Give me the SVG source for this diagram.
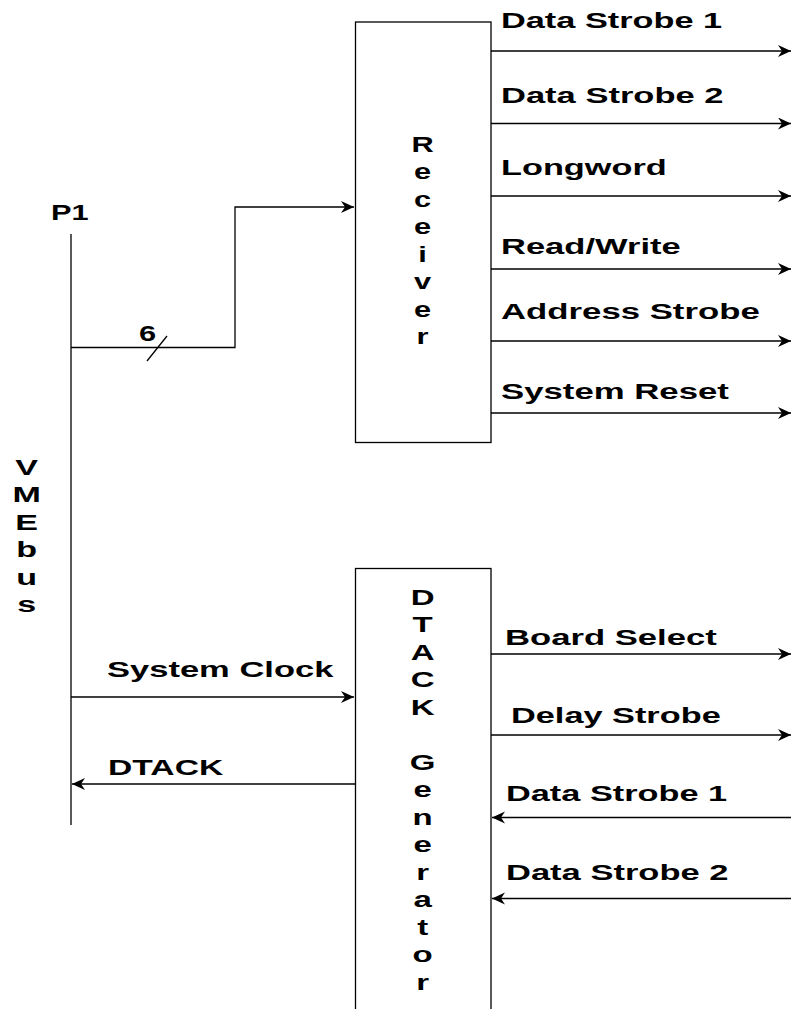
<svg xmlns="http://www.w3.org/2000/svg" width="791" height="1009" viewBox="0 0 791 1009">
<style>
.t{font-family:"Liberation Sans",Arial,sans-serif;font-weight:bold;font-size:22px;fill:#000}
.v{font-family:"Liberation Sans",Arial,sans-serif;font-weight:bold;font-size:22px;fill:#000;text-anchor:middle}
.ln{stroke:#000;stroke-width:1.3;fill:none}
.box{stroke:#000;stroke-width:1.3;fill:#fff}
</style>
<defs>
<marker id="ah" markerWidth="15" markerHeight="13" refX="13" refY="6" orient="auto" markerUnits="userSpaceOnUse">
<path d="M0,0 L13,6 L0,12 L4,6 z" fill="#000"/>
</marker>
</defs>
<rect width="791" height="1009" fill="#fff"/>
<g id="connectors">
<line class="ln" x1="71" y1="234" x2="71" y2="825"/>
<polyline class="ln" points="71,347.5 235,347.5 235,207 354,207" marker-end="url(#ah)"/>
<line class="ln" x1="147" y1="361" x2="167" y2="336"/>
<line class="ln" x1="491" y1="51" x2="791" y2="51" marker-end="url(#ah)"/>
<line class="ln" x1="491" y1="123.5" x2="791" y2="123.5" marker-end="url(#ah)"/>
<line class="ln" x1="491" y1="196" x2="791" y2="196" marker-end="url(#ah)"/>
<line class="ln" x1="491" y1="269" x2="791" y2="269" marker-end="url(#ah)"/>
<line class="ln" x1="491" y1="341" x2="791" y2="341" marker-end="url(#ah)"/>
<line class="ln" x1="491" y1="413" x2="791" y2="413" marker-end="url(#ah)"/>
<line class="ln" x1="71" y1="697" x2="354" y2="697" marker-end="url(#ah)"/>
<line class="ln" x1="355" y1="784" x2="72" y2="784" marker-end="url(#ah)"/>
<line class="ln" x1="491" y1="654" x2="791" y2="654" marker-end="url(#ah)"/>
<line class="ln" x1="491" y1="735" x2="791" y2="735" marker-end="url(#ah)"/>
<line class="ln" x1="791" y1="817.5" x2="492" y2="817.5" marker-end="url(#ah)"/>
<line class="ln" x1="791" y1="898.5" x2="492" y2="898.5" marker-end="url(#ah)"/>
</g>
<g id="labels">
<text class="t" transform="translate(51,220) scale(1.4,1)">P1</text>
<text class="t" transform="translate(139,341) scale(1.4,1)">6</text>
<text class="t" transform="translate(501,28) scale(1.56,1)">Data Strobe 1</text>
<text class="t" transform="translate(501,102.5) scale(1.57,1)">Data Strobe 2</text>
<text class="t" transform="translate(501,175) scale(1.56,1)">Longword</text>
<text class="t" transform="translate(501,254) scale(1.57,1)">Read/Write</text>
<text class="t" transform="translate(501,319) scale(1.58,1)">Address Strobe</text>
<text class="t" transform="translate(501,399) scale(1.58,1)">System Reset</text>
<text class="t" transform="translate(107,677) scale(1.57,1)">System Clock</text>
<text class="t" transform="translate(108,775) scale(1.53,1)">DTACK</text>
<text class="t" transform="translate(505,645) scale(1.575,1)">Board Select</text>
<text class="t" transform="translate(511,722.5) scale(1.56,1)">Delay Strobe</text>
<text class="t" transform="translate(506,800.5) scale(1.56,1)">Data Strobe 1</text>
<text class="t" transform="translate(506,880) scale(1.57,1)">Data Strobe 2</text>
</g>
<g id="vmebus" transform="translate(26.7,0) scale(1.55,1)">
<text class="v" x="0" y="475">V</text>
<text class="v" x="0" y="502.5">M</text>
<text class="v" x="0" y="530">E</text>
<text class="v" x="0" y="557.5">b</text>
<text class="v" x="0" y="585">u</text>
<text class="v" x="0" y="612.5">s</text>
</g>
<g id="receiver">
<rect class="box" x="355.5" y="22" width="135.5" height="420.5"/>
<g transform="translate(422.5,0) scale(1.4,1)">
<text class="v" x="0" y="152">R</text>
<text class="v" x="0" y="179.5">e</text>
<text class="v" x="0" y="207">c</text>
<text class="v" x="0" y="234.5">e</text>
<text class="v" x="0" y="262">i</text>
<text class="v" x="0" y="289.5">v</text>
<text class="v" x="0" y="317">e</text>
<text class="v" x="0" y="344.5">r</text>
</g>
</g>
<g id="dtack-generator">
<rect class="box" x="355.5" y="568.5" width="135.5" height="460"/>
<g transform="translate(422.7,0) scale(1.5,1)">
<text class="v" x="0" y="605">D</text>
<text class="v" x="0" y="632.5">T</text>
<text class="v" x="0" y="660">A</text>
<text class="v" x="0" y="687.5">C</text>
<text class="v" x="0" y="715">K</text>
<text class="v" x="0" y="770">G</text>
<text class="v" x="0" y="797.5">e</text>
<text class="v" x="0" y="825">n</text>
<text class="v" x="0" y="852.5">e</text>
<text class="v" x="0" y="880">r</text>
<text class="v" x="0" y="907.5">a</text>
<text class="v" x="0" y="935">t</text>
<text class="v" x="0" y="962.5">o</text>
<text class="v" x="0" y="990">r</text>
</g>
</g>
</svg>
